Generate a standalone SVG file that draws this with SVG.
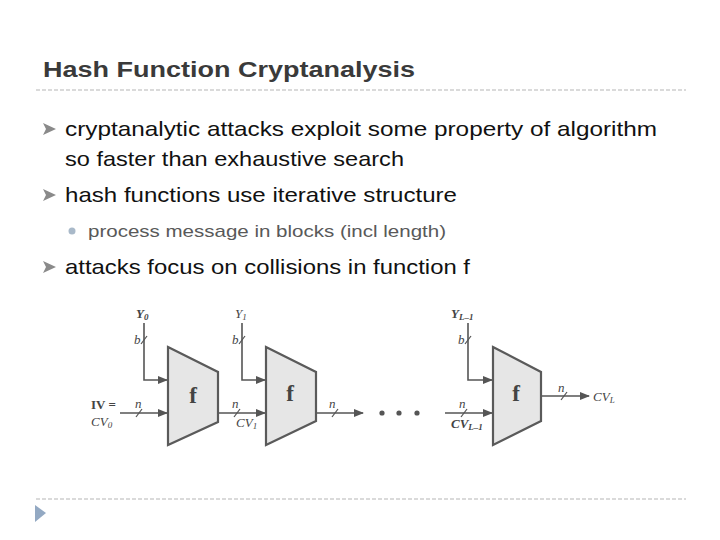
<svg xmlns="http://www.w3.org/2000/svg" width="720" height="540" viewBox="0 0 720 540">
<defs>
<style>
.title{font-family:"Liberation Sans",Arial,sans-serif;font-weight:bold;font-size:22px;fill:#3a3a3a}
.b1{font-family:"Liberation Sans",Arial,sans-serif;font-size:21px;fill:#111}
.b2{font-family:"Liberation Sans",Arial,sans-serif;font-size:17px;fill:#595959}
.sep{stroke:#b5b5b5;stroke-width:1;stroke-dasharray:4,2}
.bul{fill:#8a8a8a}
.wire{stroke:#555;stroke-width:1.6;fill:none}
.slash{stroke:#555;stroke-width:1.2}
.trap{fill:#e6e6e6;stroke:#5a5a5a;stroke-width:2.2;stroke-linejoin:miter}
.fl{font-family:"Liberation Serif","Times New Roman",serif;font-weight:bold;font-size:23px;fill:#444;text-anchor:middle}
.lab{font-family:"Liberation Serif","Times New Roman",serif;font-style:italic;font-size:13px;fill:#444}
.labb{font-family:"Liberation Serif","Times New Roman",serif;font-weight:bold;font-size:13px;fill:#444}
.sub{font-size:9px}
</style>
<marker id="ah" markerWidth="10" markerHeight="8" refX="9" refY="4" orient="auto" markerUnits="userSpaceOnUse">
<path d="M0,0 L10,4 L0,8 z" fill="#555"/>
</marker>
</defs>
<rect width="720" height="540" fill="#fff"/>

<text class="title" x="43" y="77" textLength="372" lengthAdjust="spacingAndGlyphs">Hash Function Cryptanalysis</text>
<line class="sep" x1="36" y1="90" x2="686" y2="90"/>

<g id="bullets">
<polygon class="bul" points="43,123 56,129 43,135 46,129"/>
<text class="b1" x="65" y="136" textLength="592" lengthAdjust="spacingAndGlyphs">cryptanalytic attacks exploit some property of algorithm</text>
<text class="b1" x="65" y="166" textLength="339" lengthAdjust="spacingAndGlyphs">so faster than exhaustive search</text>
<polygon class="bul" points="43,189 56,195 43,201 46,195"/>
<text class="b1" x="65" y="202" textLength="392" lengthAdjust="spacingAndGlyphs">hash functions use iterative structure</text>
<circle cx="72" cy="231" r="3.5" fill="#a9b9c9"/>
<text class="b2" x="88" y="237" textLength="358" lengthAdjust="spacingAndGlyphs">process message in blocks (incl length)</text>
<polygon class="bul" points="43,261 56,267 43,273 46,267"/>
<text class="b1" x="65" y="274" textLength="405" lengthAdjust="spacingAndGlyphs">attacks focus on collisions in function f</text>
</g>

<g id="connectors">
<polyline class="wire" points="144,323 144,380 167,380" marker-end="url(#ah)"/>
<line class="slash" x1="141" y1="344" x2="147" y2="336"/>
<line class="wire" x1="120" y1="413" x2="167" y2="413" marker-end="url(#ah)"/>
<line class="slash" x1="136" y1="417" x2="142" y2="409"/>
<line class="wire" x1="218" y1="413" x2="265" y2="413" marker-end="url(#ah)"/>
<line class="slash" x1="234" y1="417" x2="240" y2="409"/>
<polyline class="wire" points="242,323 242,380 265,380" marker-end="url(#ah)"/>
<line class="slash" x1="239" y1="344" x2="245" y2="336"/>
<line class="wire" x1="316" y1="413" x2="363" y2="413" marker-end="url(#ah)"/>
<line class="slash" x1="332" y1="417" x2="338" y2="409"/>
<line class="wire" x1="445" y1="413" x2="492" y2="413" marker-end="url(#ah)"/>
<line class="slash" x1="461" y1="417" x2="467" y2="409"/>
<polyline class="wire" points="468,323 468,380 492,380" marker-end="url(#ah)"/>
<line class="slash" x1="465" y1="344" x2="471" y2="336"/>
<line class="wire" x1="541" y1="396" x2="589" y2="396" marker-end="url(#ah)"/>
<line class="slash" x1="561" y1="400" x2="567" y2="392"/>
<circle cx="382" cy="413" r="2.6" fill="#555"/>
<circle cx="399" cy="413" r="2.6" fill="#555"/>
<circle cx="417" cy="413" r="2.6" fill="#555"/>
</g>

<g id="f1">
<polygon class="trap" points="168,347 218,372 218,422 168,445"/>
<text class="fl" x="193" y="403">f</text>
</g>
<g id="f2">
<polygon class="trap" points="266,347 316,372 316,421 266,445"/>
<text class="fl" x="290" y="401">f</text>
</g>
<g id="f3">
<polygon class="trap" points="493,347 541,372 541,421 493,445"/>
<text class="fl" x="516" y="401">f</text>
</g>

<g id="labels">
<text class="lab" x="136" y="318" font-weight="bold">Y<tspan class="sub" dy="2">0</tspan></text>
<text class="lab" x="235" y="318">Y<tspan class="sub" dy="2">1</tspan></text>
<text class="lab" x="451" y="318" font-weight="bold">Y<tspan class="sub" dy="2">L–1</tspan></text>
<text class="lab" x="134" y="344">b</text>
<text class="lab" x="232" y="344">b</text>
<text class="lab" x="458" y="344">b</text>
<text class="labb" x="91" y="409">IV =</text>
<text class="lab" x="91" y="426">CV<tspan class="sub" dy="2">0</tspan></text>
<text class="lab" x="135" y="408">n</text>
<text class="lab" x="232" y="408">n</text>
<text class="lab" x="236" y="427">CV<tspan class="sub" dy="2">1</tspan></text>
<text class="lab" x="329" y="408">n</text>
<text class="lab" x="459" y="408">n</text>
<text class="lab" x="451" y="428" font-weight="bold">CV<tspan class="sub" dy="2">L–1</tspan></text>
<text class="lab" x="558" y="392">n</text>
<text class="lab" x="593" y="401">CV<tspan class="sub" dy="2">L</tspan></text>
</g>

<line class="sep" x1="36" y1="499" x2="686" y2="499"/>
<polygon points="35,505 46,513 35,522" fill="#93a9c3"/>
</svg>
